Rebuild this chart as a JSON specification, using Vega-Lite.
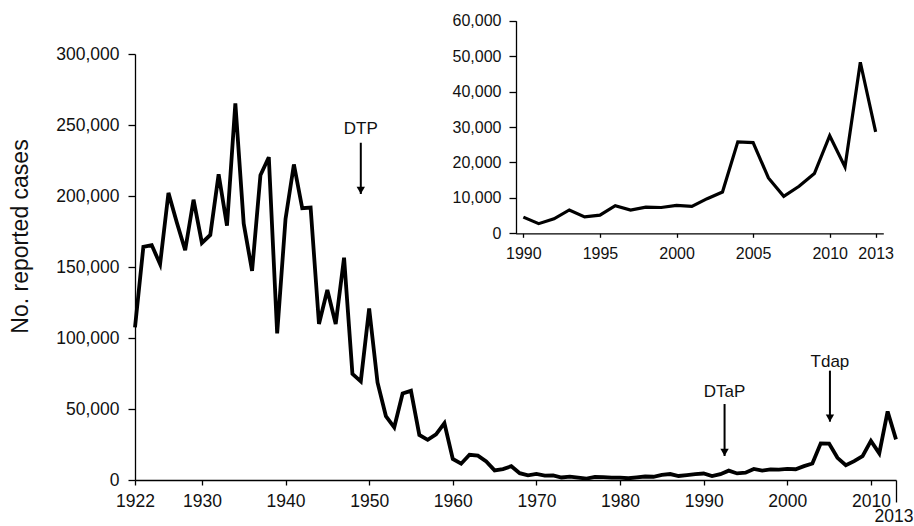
{
  "$schema": "https://vega.github.io/schema/vega-lite/v6.json",
  "width": 761,
  "height": 426,
  "autosize": "none",
  "padding": {"left": 135, "top": 54, "right": 18, "bottom": 46},
  "background": "white",
  "config": {
    "view": {"stroke": null},
    "font": "Liberation Sans",
    "axis": {
      "grid": false,
      "domainColor": "#000",
      "tickColor": "#000",
      "labelColor": "#111",
      "titleColor": "#111",
      "labelFont": "Liberation Sans",
      "titleFont": "Liberation Sans",
      "titleFontWeight": "normal",
      "domainWidth": 1.3,
      "tickWidth": 1.3
    }
  },
  "datasets": {
    "cases": [
      {"year": 1922, "cases": 107473}, {"year": 1923, "cases": 164191}, {"year": 1924, "cases": 165418},
      {"year": 1925, "cases": 152003}, {"year": 1926, "cases": 202210}, {"year": 1927, "cases": 181411},
      {"year": 1928, "cases": 161799}, {"year": 1929, "cases": 197371}, {"year": 1930, "cases": 166914},
      {"year": 1931, "cases": 172559}, {"year": 1932, "cases": 215343}, {"year": 1933, "cases": 179135},
      {"year": 1934, "cases": 265269}, {"year": 1935, "cases": 180518}, {"year": 1936, "cases": 147237},
      {"year": 1937, "cases": 214652}, {"year": 1938, "cases": 227319}, {"year": 1939, "cases": 103188},
      {"year": 1940, "cases": 183866}, {"year": 1941, "cases": 222202}, {"year": 1942, "cases": 191383},
      {"year": 1943, "cases": 191890}, {"year": 1944, "cases": 109873}, {"year": 1945, "cases": 133792},
      {"year": 1946, "cases": 109860}, {"year": 1947, "cases": 156517}, {"year": 1948, "cases": 74715},
      {"year": 1949, "cases": 69479}, {"year": 1950, "cases": 120718}, {"year": 1951, "cases": 68687},
      {"year": 1952, "cases": 45030}, {"year": 1953, "cases": 37129}, {"year": 1954, "cases": 60886},
      {"year": 1955, "cases": 62786}, {"year": 1956, "cases": 31732}, {"year": 1957, "cases": 28295},
      {"year": 1958, "cases": 32148}, {"year": 1959, "cases": 40005}, {"year": 1960, "cases": 14809},
      {"year": 1961, "cases": 11468}, {"year": 1962, "cases": 17749}, {"year": 1963, "cases": 17135},
      {"year": 1964, "cases": 13005}, {"year": 1965, "cases": 6799}, {"year": 1966, "cases": 7717},
      {"year": 1967, "cases": 9718}, {"year": 1968, "cases": 4810}, {"year": 1969, "cases": 3285},
      {"year": 1970, "cases": 4249}, {"year": 1971, "cases": 3036}, {"year": 1972, "cases": 3287},
      {"year": 1973, "cases": 1759}, {"year": 1974, "cases": 2402}, {"year": 1975, "cases": 1738},
      {"year": 1976, "cases": 1010}, {"year": 1977, "cases": 2177}, {"year": 1978, "cases": 2063},
      {"year": 1979, "cases": 1623}, {"year": 1980, "cases": 1730}, {"year": 1981, "cases": 1248},
      {"year": 1982, "cases": 1895}, {"year": 1983, "cases": 2463}, {"year": 1984, "cases": 2276},
      {"year": 1985, "cases": 3589}, {"year": 1986, "cases": 4195}, {"year": 1987, "cases": 2823},
      {"year": 1988, "cases": 3450}, {"year": 1989, "cases": 4157}, {"year": 1990, "cases": 4570},
      {"year": 1991, "cases": 2719}, {"year": 1992, "cases": 4083}, {"year": 1993, "cases": 6586},
      {"year": 1994, "cases": 4617}, {"year": 1995, "cases": 5137}, {"year": 1996, "cases": 7796},
      {"year": 1997, "cases": 6564}, {"year": 1998, "cases": 7405}, {"year": 1999, "cases": 7288},
      {"year": 2000, "cases": 7867}, {"year": 2001, "cases": 7580}, {"year": 2002, "cases": 9771},
      {"year": 2003, "cases": 11647}, {"year": 2004, "cases": 25827}, {"year": 2005, "cases": 25616},
      {"year": 2006, "cases": 15632}, {"year": 2007, "cases": 10454}, {"year": 2008, "cases": 13278},
      {"year": 2009, "cases": 16858}, {"year": 2010, "cases": 27550}, {"year": 2011, "cases": 18719},
      {"year": 2012, "cases": 48277}, {"year": 2013, "cases": 28639}
    ],
    "notes": [
      {"label": "DTP", "year": 1949, "labelY": 243500, "top": 237500, "tip": 201400},
      {"label": "DTaP", "year": 1992.5, "labelY": 58700, "top": 53500, "tip": 16900},
      {"label": "Tdap", "year": 2005.1, "labelY": 79800, "top": 77000, "tip": 41100}
    ]
  },
  "layer": [
    {
      "layer": [
        {
          "data": {"name": "cases"},
          "mark": {"type": "line", "color": "#000", "strokeWidth": 3.8},
          "encoding": {
            "x": {
              "field": "year", "type": "quantitative", "title": null,
              "scale": {"domain": [1922, 2013], "nice": false, "zero": false},
              "axis": {
                "values": [1922, 1930, 1940, 1950, 1960, 1970, 1980, 1990, 2000, 2010, 2013],
                "format": "d",
                "labelFontSize": 17.5,
                "tickSize": {"condition": {"test": "datum.value == 2013", "value": 22}, "value": 5},
                "labelPadding": {"condition": {"test": "datum.value == 2013", "value": 5.5}, "value": 7},
                "labelOffset": {"condition": {"test": "datum.value == 2013", "value": -2.5}, "value": 0},
                "labelFlush": false,
                "labelOverlap": false
              }
            },
            "y": {
              "field": "cases", "type": "quantitative", "title": "No. reported cases",
              "scale": {"domain": [0, 300000], "nice": false},
              "axis": {
                "values": [0, 50000, 100000, 150000, 200000, 250000, 300000],
                "format": ",d",
                "labelFontSize": 17.5,
                "tickSize": 7,
                "labelPadding": 9,
                "titleFontSize": 23,
                "titleAngle": -90,
                "titleAlign": "center",
                "titleBaseline": "alphabetic",
                "titleX": -108,
                "titleY": 182
              }
            }
          }
        },
        {
          "data": {"name": "notes"},
          "mark": {"type": "rule", "color": "#000", "strokeWidth": 2},
          "encoding": {
            "x": {"field": "year", "type": "quantitative", "title": null},
            "y": {"field": "top", "type": "quantitative", "title": "No. reported cases"},
            "y2": {"field": "tip"}
          }
        },
        {
          "data": {"name": "notes"},
          "mark": {"type": "point", "shape": "triangle-down", "filled": true, "color": "#000", "opacity": 1, "size": 70, "yOffset": -3.6},
          "encoding": {
            "x": {"field": "year", "type": "quantitative", "title": null},
            "y": {"field": "tip", "type": "quantitative", "title": "No. reported cases"}
          }
        },
        {
          "data": {"name": "notes"},
          "mark": {"type": "text", "fontSize": 17, "align": "center", "baseline": "alphabetic", "color": "#111", "font": "Liberation Sans"},
          "encoding": {
            "x": {"field": "year", "type": "quantitative", "title": null},
            "y": {"field": "labelY", "type": "quantitative", "title": "No. reported cases"},
            "text": {"field": "label"}
          }
        }
      ]
    },
    {
      "data": {"name": "cases"},
      "transform": [{"filter": "datum.year >= 1990"}],
      "mark": {"type": "line", "color": "#000", "strokeWidth": 3.2},
      "encoding": {
        "x": {
          "field": "year", "type": "quantitative", "title": null,
          "scale": {"domain": [1989.5, 2013.5], "range": [380.7, 748.3], "nice": false, "zero": false},
          "axis": {
            "orient": "bottom",
            "offset": -246.7,
            "values": [1990, 1995, 2000, 2005, 2010, 2013],
            "format": "d",
            "labelFontSize": 16,
            "tickSize": 4,
            "labelPadding": 8,
            "labelFlush": false,
            "labelOverlap": false
          }
        },
        "y": {
          "field": "cases", "type": "quantitative", "title": null,
          "scale": {"domain": [0, 60000], "range": [179.3, -33.3], "nice": false},
          "axis": {
            "orient": "left",
            "offset": -381,
            "values": [0, 10000, 20000, 30000, 40000, 50000, 60000],
            "format": ",d",
            "labelFontSize": 16,
            "tickSize": 7,
            "labelPadding": 8
          }
        }
      }
    }
  ],
  "resolve": {
    "scale": {"x": "independent", "y": "independent"},
    "axis": {"x": "independent", "y": "independent"}
  }
}
